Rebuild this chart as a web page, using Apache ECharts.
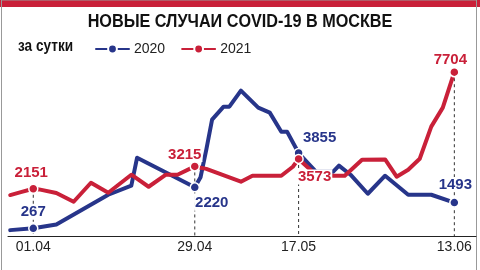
<!DOCTYPE html>
<html>
<head>
<meta charset="utf-8">
<script src="https://cdn.jsdelivr.net/npm/echarts@6/dist/echarts.min.js"></script>
<style>
  html, body { margin: 0; padding: 0; background: #fff; }
  #chart { width: 480px; height: 270px; }
</style>
</head>
<body>
<div id="chart"></div>
<script>
// Days counted from 1 April; the axis only names the four marked dates
const tickDays = [0, 28, 46, 73];
const tickLabels = ['01.04', '29.04', '17.05', '13.06'];

// New COVID-19 cases per day in Moscow, 2020
const days2020 = [-4, 0, 4, 13, 17, 18, 28, 29, 30, 31, 33, 34, 36, 39, 41, 43, 44, 46, 49, 52, 53, 55, 58, 61, 65, 69, 73];
const cases2020 = [180, 267, 450, 1866, 2300, 3630, 2220, 2700, 4012, 5444, 6064, 6064, 6827, 6016, 5777, 4871, 4871, 3855, 2963, 2963, 3250, 2820, 1913, 2772, 1865, 1865, 1493];

// New COVID-19 cases per day in Moscow, 2021
const days2021 = [-4, -2, 0, 1, 4, 7, 10, 13, 17, 20, 23, 25, 28, 30, 36, 38, 43, 45, 46, 49, 52, 54, 57, 61, 63, 65, 67, 69, 71, 73];
const cases2021 = [1850, 2000, 2151, 2120, 1950, 1532, 2438, 1961, 2820, 2247, 2820, 2820, 3215, 3100, 2486, 2772, 2772, 3201, 3573, 2820, 2772, 2772, 3535, 3550, 2724, 3058, 3583, 5110, 6016, 7704];

const BLUE = '#27358a';
const RED = '#c92039';
const FONT = '"Liberation Sans", Arial, sans-serif';

// where each value caption sits relative to its dot
const captionOffset2020 = { 0: [0, -16], 28: [17, 16], 46: [21, -15], 73: [1, -18] };
const captionOffset2021 = { 0: [-2, -16], 28: [-10, -12], 46: [16, 18], 73: [-4, -12] };

function buildPoints(days, values, offsets) {
  return days.map((d, i) => {
    const off = offsets[d];
    if (!off) return { value: [d, values[i]], symbol: 'none' };
    return { value: [d, values[i]], symbol: 'circle', label: { show: true, offset: off } };
  });
}

function caseSeries(name, days, values, offsets, color, z) {
  return {
    name: name,
    type: 'line',
    z: z,
    data: buildPoints(days, values, offsets),
    symbol: 'circle',
    symbolSize: 9,
    lineStyle: { color: color, width: 4, cap: 'round', join: 'round' },
    itemStyle: { color: color, borderColor: '#fff', borderWidth: 1.5 },
    label: {
      show: false,
      position: ['50%', '50%'],
      align: 'center',
      verticalAlign: 'middle',
      formatter: p => String(p.value[1]),
      color: color,
      fontSize: 15,
      fontWeight: 'bold',
      fontFamily: FONT,
      backgroundColor: '#fff',
      padding: [0, 1]
    },
    emphasis: { disabled: true },
    silent: true
  };
}

// dashed drop line under each marked date, from the higher dot to the axis
function dropSeries(day) {
  const v2020 = cases2020[days2020.indexOf(day)];
  const v2021 = cases2021[days2021.indexOf(day)];
  return {
    type: 'line',
    z: 1,
    silent: true,
    symbol: 'none',
    data: [[day, Math.max(v2020, v2021)], [day, -100]],
    lineStyle: { color: '#333', width: 1, type: [3, 3] },
    emphasis: { disabled: true }
  };
}

const chart = echarts.init(document.getElementById('chart'), null, { renderer: 'canvas' });

chart.setOption({
  animation: false,
  backgroundColor: '#fff',
  grid: { left: 8, top: 66, width: 468, height: 170, containLabel: false, outerBoundsMode: 'none' },
  xAxis: {
    type: 'value',
    min: -4.381,
    max: 76.756,
    axisLine: { show: true, onZero: false, lineStyle: { color: '#222', width: 1 } },
    axisTick: { show: false },
    splitLine: { show: false },
    axisLabel: {
      customValues: tickDays,
      formatter: v => tickLabels[tickDays.indexOf(v)] || '',
      fontSize: 14,
      fontFamily: FONT,
      color: '#222',
      margin: 4
    }
  },
  yAxis: { type: 'value', min: -100, max: 8000, show: false },
  legend: {
    data: ['2020', '2021'],
    left: 95,
    top: 42,
    padding: 0,
    itemWidth: 33,
    itemHeight: 11,
    itemGap: 16,
    selectedMode: false,
    textStyle: { fontSize: 14, fontFamily: FONT, color: '#222' }
  },
  graphic: [
    { type: 'rect', silent: true, shape: { x: 0, y: 0, width: 480, height: 7 }, style: { fill: RED } },
    { type: 'rect', silent: true, shape: { x: 1.5, y: 0, width: 475, height: 275 }, style: { fill: 'none', stroke: '#999', lineWidth: 1 } },
    {
      type: 'text', silent: true, x: 240, y: 22, scaleX: 0.9,
      style: {
        text: 'НОВЫЕ СЛУЧАИ COVID-19 В МОСКВЕ',
        font: 'bold 18px "Liberation Sans", Arial, sans-serif',
        fill: '#111',
        textAlign: 'center', align: 'center',
        textVerticalAlign: 'middle', verticalAlign: 'middle'
      }
    },
    {
      type: 'text', silent: true, x: 18, y: 47, scaleX: 0.85,
      style: {
        text: 'за сутки',
        font: 'bold 16px "Liberation Sans", Arial, sans-serif',
        fill: '#111',
        textAlign: 'left', align: 'left',
        textVerticalAlign: 'middle', verticalAlign: 'middle'
      }
    }
  ],
  series: [
    ...tickDays.map(dropSeries),
    caseSeries('2020', days2020, cases2020, captionOffset2020, BLUE, 2),
    caseSeries('2021', days2021, cases2021, captionOffset2021, RED, 3)
  ]
});
</script>
</body>
</html>
